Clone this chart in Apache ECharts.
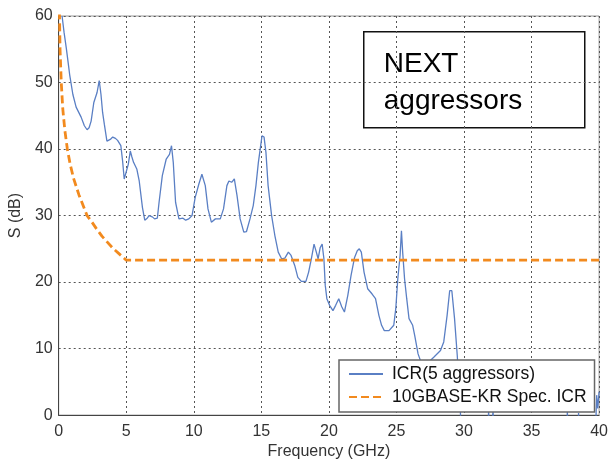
<!DOCTYPE html>
<html>
<head>
<meta charset="utf-8">
<script src="https://cdn.jsdelivr.net/npm/echarts@6/dist/echarts.min.js"></script>
<style>
  html, body { margin: 0; padding: 0; background: #fff; }
  #chart { width: 611px; height: 465px; }
</style>
</head>
<body>
<div id="chart"></div>
<script>
// ICR curve: [frequency GHz, dB]
var icrPoints = [
    [0.25, 60], [0.4, 57.5], [0.56, 55.2], [0.7, 53], [0.81, 51.2], [1.05, 48.2], [1.29, 46.3],
    [1.66, 44.8], [1.9, 43.5], [2.1, 42.9], [2.25, 43.2], [2.4, 44.2], [2.6, 47], [2.84, 48.5],
    [3.0, 50.3], [3.13, 48.2], [3.25, 45.5], [3.38, 43.7], [3.57, 41.2], [3.7, 41], [3.85, 41.5],
    [4.0, 41.8], [4.2, 41.6], [4.36, 41.3], [4.6, 40.5], [4.73, 38.2], [4.85, 35.5], [4.97, 35.2],
    [5.15, 37.7], [5.3, 39.7], [5.42, 38.8], [5.54, 38], [5.78, 37], [5.96, 35.2], [6.2, 31.2],
    [6.37, 29.3], [6.55, 29.6], [6.7, 30], [6.93, 29.8], [7.1, 29.5], [7.3, 29.6], [7.43, 32],
    [7.67, 36], [7.96, 38.5], [8.2, 39.2], [8.35, 40.5], [8.48, 38], [8.65, 32], [8.9, 29.5],
    [9.2, 29.6], [9.4, 29.3], [9.63, 29.5], [9.87, 30], [10.1, 32.7], [10.37, 34.7], [10.6, 36.2],
    [10.7, 36.5], [10.85, 34.5], [11.05, 31], [11.3, 29], [11.6, 29.5], [11.96, 29.5], [12.2, 31],
    [12.45, 34.5], [12.6, 35.2], [12.8, 35], [13.0, 35.5], [13.2, 33], [13.43, 29.5], [13.7, 27.5],
    [13.9, 27.6], [14.16, 29.5], [14.4, 31.5], [14.6, 34.5], [14.78, 38], [14.95, 40.5], [15.05, 42],
    [15.2, 41.8], [15.34, 39.5], [15.5, 34.5], [15.76, 30], [16.0, 27], [16.25, 24.5], [16.5, 23.5],
    [16.74, 23.6], [17.0, 24.5], [17.2, 24], [17.47, 22.5], [17.7, 20.7], [17.96, 20.1], [18.3, 20.1],
    [18.5, 21.5], [18.7, 23.5], [18.9, 25.7], [19.07, 24.5], [19.2, 23.5], [19.36, 25.2], [19.5, 25.7],
    [19.63, 23.5], [19.73, 19.5], [19.85, 17.5], [20.05, 16.5], [20.3, 15.7], [20.5, 16.5], [20.73, 17.5],
    [20.95, 16.3], [21.15, 15.5], [21.4, 18], [21.64, 21], [21.9, 23.7], [22.1, 24.7], [22.25, 25],
    [22.4, 24.5], [22.6, 21.5], [22.87, 19], [23.2, 18.2], [23.45, 17.5], [23.7, 15], [23.9, 13.5],
    [24.1, 12.7], [24.45, 12.7], [24.8, 13.5], [24.95, 16], [25.1, 20.5], [25.27, 24], [25.37, 27.7],
    [25.46, 24.5], [25.6, 20.5], [25.76, 17.5], [25.93, 14.5], [26.2, 13.5], [26.35, 12], [26.6, 9.2],
    [26.9, 7.5], [27.3, 7.8], [27.76, 8.7], [28.26, 9.7], [28.5, 11], [28.75, 15], [28.94, 18.7],
    [29.1, 18.7], [29.3, 14.5], [29.5, 9], [29.7, 2], [29.85, -5], [31.7, -5], [31.82, 0.5],
    [31.95, -3], [32.15, 0.5], [32.3, -5], [37.55, -5], [37.65, 0.5], [37.75, -5], [38.4, -5],
    [38.48, 0.3], [38.56, -5], [39.7, -5], [39.82, 3], [39.9, 1], [40, 3.5]
];

// 10GBASE-KR spec ICR
var specPoints = [
    [0.04, 62.5], [0.1, 55], [0.19, 50], [0.3, 46.1], [0.45, 42.9], [0.64, 40], [0.85, 37.7],
    [1.1, 35.6], [1.5, 33.1], [2.1, 30], [2.5, 28.9], [2.8, 28], [3.2, 26.9], [3.6, 26],
    [4.0, 25.1], [4.5, 24.2], [5, 23.3], [40, 23.3]
];

var seriesNames = ['ICR(5 aggressors)', '10GBASE-KR Spec. ICR'];
var boxText = 'NEXT\naggressors';

var myChart = echarts.init(document.getElementById('chart'));

var font = 'Liberation Sans';
var gridStyle = { color: '#555', type: [2, 3], width: 1 };

var option = {
    animation: false,
    backgroundColor: '#fff',
    grid: {
        left: 56, right: 11, top: 16, bottom: 48,
        show: true, borderColor: '#999', borderWidth: 1
    },
    xAxis: {
        type: 'value', min: 0, max: 40, interval: 5,
        name: 'Frequency (GHz)', nameLocation: 'middle', nameGap: 28,
        nameTextStyle: { fontFamily: font, fontSize: 16, color: '#333' },
        axisLine: { lineStyle: { color: '#444', width: 1 } },
        axisTick: { show: false },
        axisLabel: { fontFamily: font, fontSize: 16, color: '#333', margin: 8 },
        splitLine: { show: true, lineStyle: gridStyle }
    },
    yAxis: {
        type: 'value', min: 0, max: 60, interval: 10,
        name: 'S (dB)', nameLocation: 'middle', nameGap: 34,
        nameTextStyle: { fontFamily: font, fontSize: 16, color: '#333' },
        axisLine: { show: true, lineStyle: { color: '#444', width: 1 } },
        axisTick: { show: false },
        axisLabel: { fontFamily: font, fontSize: 16, color: '#333', margin: 6 },
        splitLine: { show: true, lineStyle: gridStyle }
    },
    legend: {
        orient: 'vertical',
        left: 339, top: 360,
        padding: [4, 8, 5, 9],
        itemWidth: 34, itemHeight: 14, itemGap: 3,
        backgroundColor: '#fff',
        borderColor: '#666', borderWidth: 1.5,
        itemStyle: { opacity: 0 },
        textStyle: { fontFamily: font, fontSize: 17.5, color: '#111', lineHeight: 20, padding: [0, 0, 0, 4] },
        data: seriesNames
    },
    graphic: [{
        type: 'group',
        left: 363, top: 31,
        children: [{
            type: 'rect',
            shape: { x: 0, y: 0, width: 221, height: 96 },
            style: { fill: '#fff', stroke: '#111', lineWidth: 1.5 }
        }, {
            type: 'text',
            x: 20, y: 14,
            style: {
                text: boxText,
                font: '28px ' + font,
                lineHeight: 37,
                fill: '#000',
                verticalAlign: 'top'
            }
        }]
    }],
    series: [{
        name: seriesNames[0],
        type: 'line',
        data: icrPoints,
        symbol: 'none',
        clip: true,
        lineStyle: { color: '#5A7FC4', width: 1.3 },
        itemStyle: { color: '#5A7FC4' }
    }, {
        name: seriesNames[1],
        type: 'line',
        data: specPoints,
        symbol: 'none',
        clip: true,
        lineStyle: { color: '#F28A1E', width: 2.8, type: [8, 4] },
        itemStyle: { color: '#F28A1E' }
    }]
};

myChart.setOption(option);
</script>
</body>
</html>
